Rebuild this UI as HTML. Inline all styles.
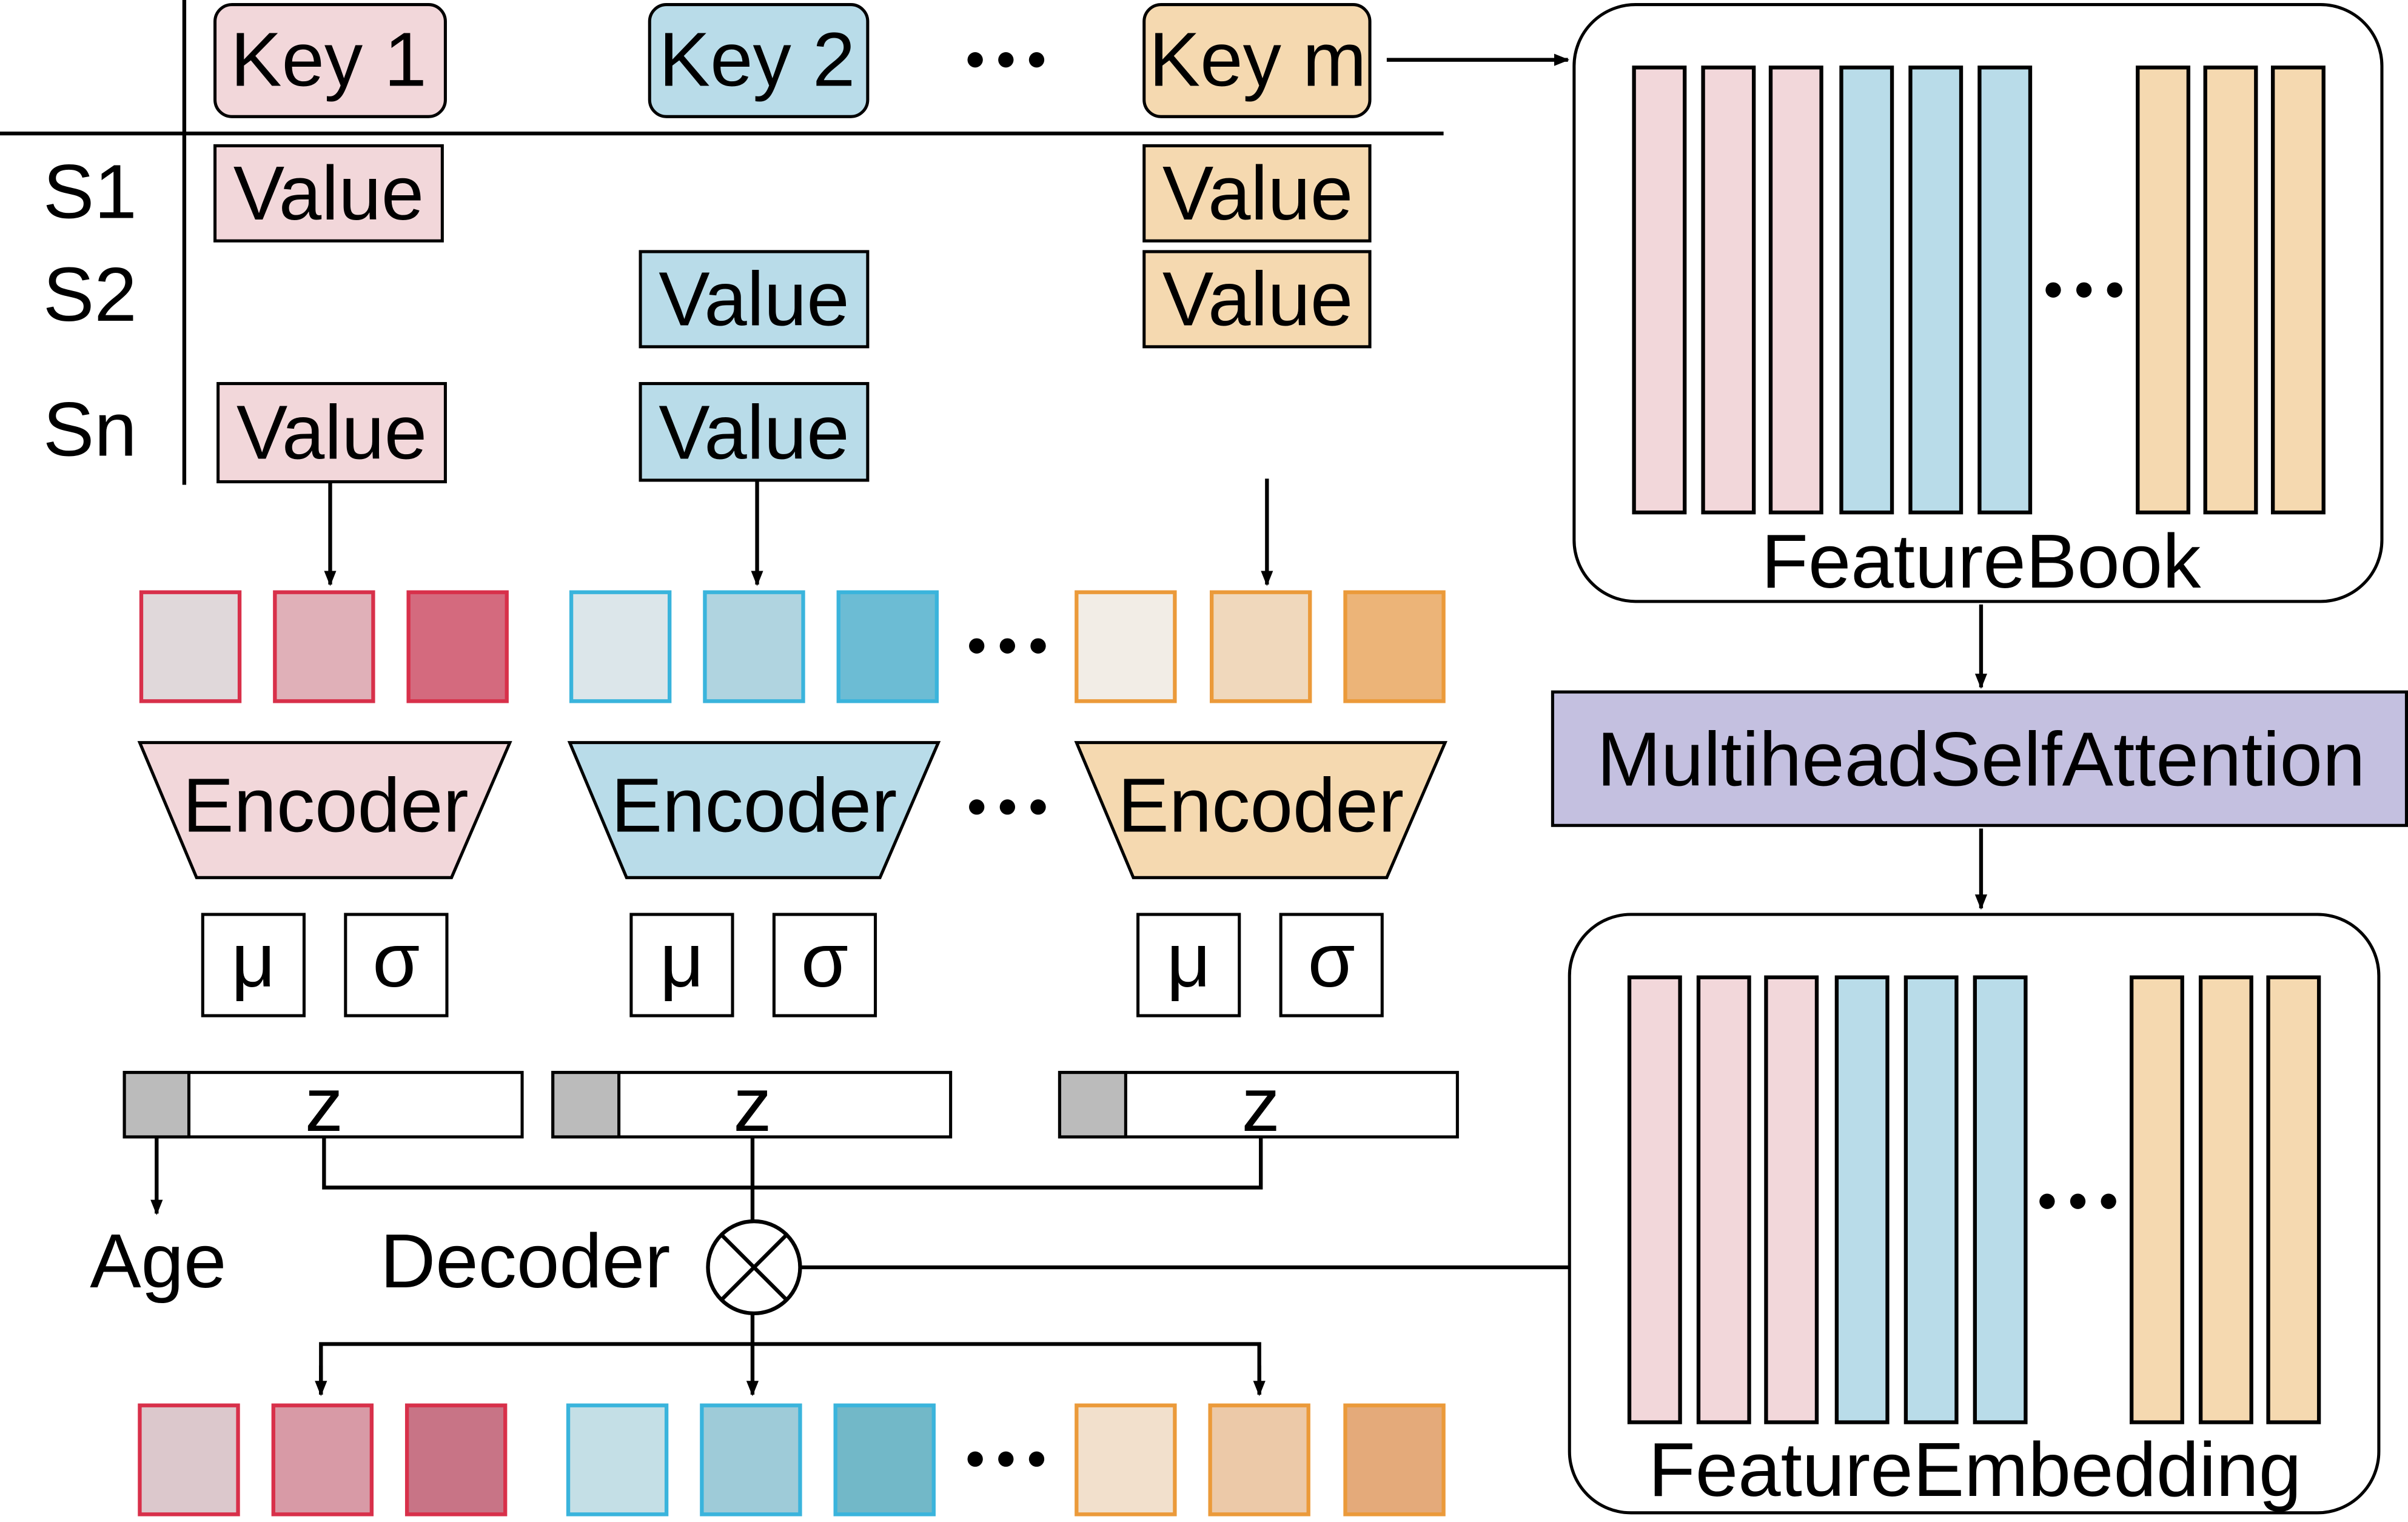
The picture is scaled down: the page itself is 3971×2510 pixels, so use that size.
<!DOCTYPE html>
<html><head><meta charset="utf-8"><style>
html,body{margin:0;padding:0;background:#fff}
svg{display:block}
text{font-family:"Liberation Sans",sans-serif;fill:#000}
</style></head><body>
<svg width="3971" height="2510" viewBox="0 0 1568 992" preserveAspectRatio="none" xmlns="http://www.w3.org/2000/svg">
<defs><marker id="a" markerWidth="10" markerHeight="10" refX="9" refY="5" orient="auto" markerUnits="userSpaceOnUse"><path d="M0,1 L10,5 L0,9 z" fill="#000"/></marker></defs>
<rect width="1568" height="992" fill="#fff"/>
<g stroke="#000" stroke-width="2.5" fill="none">
<line x1="120" y1="0" x2="120" y2="316"/>
<line x1="0" y1="87" x2="940" y2="87"/>
<line x1="903" y1="39" x2="1021" y2="39" marker-end="url(#a)"/>
<line x1="215" y1="314" x2="215" y2="381" marker-end="url(#a)"/>
<line x1="493" y1="313" x2="493" y2="381" marker-end="url(#a)"/>
<line x1="825" y1="312" x2="825" y2="381" marker-end="url(#a)"/>
<line x1="102" y1="741" x2="102" y2="791" marker-end="url(#a)"/>
<polyline points="211,741 211,774 821,774 821,741"/>
<line x1="490" y1="741" x2="490" y2="796"/>
<line x1="521" y1="826" x2="1022" y2="826"/>
<line x1="490" y1="856" x2="490" y2="909" marker-end="url(#a)"/>
<polyline points="209,909 209,876 820,876 820,909"/>
<line x1="209" y1="890" x2="209" y2="909" marker-end="url(#a)"/>
<line x1="820" y1="890" x2="820" y2="909" marker-end="url(#a)"/>
<line x1="1290" y1="394" x2="1290" y2="448" marker-end="url(#a)"/>
<line x1="1290" y1="540" x2="1290" y2="592" marker-end="url(#a)"/>
</g>
<g stroke="#000" stroke-width="2">
<rect x="140" y="3" width="150" height="73" rx="11" fill="#f2d7da"/>
<rect x="423" y="3" width="142" height="73" rx="11" fill="#b9dce9"/>
<rect x="745" y="3" width="147" height="73" rx="11" fill="#f5d9b0"/>
<rect x="140" y="95" width="148" height="62" fill="#f2d7da"/>
<rect x="745" y="95" width="147" height="62" fill="#f5d9b0"/>
<rect x="417" y="164" width="148" height="62" fill="#b9dce9"/>
<rect x="745" y="164" width="147" height="62" fill="#f5d9b0"/>
<rect x="142" y="250" width="148" height="64" fill="#f2d7da"/>
<rect x="417" y="250" width="148" height="63" fill="#b9dce9"/>
<polygon points="91,484 332,484 294,572 128,572" fill="#f2d7da"/>
<polygon points="371,484 611,484 573,572 408,572" fill="#b9dce9"/>
<polygon points="701,484 941,484 903,572 738,572" fill="#f5d9b0"/>
<g fill="#fff">
<rect x="132" y="596" width="66" height="66"/><rect x="225" y="596" width="66" height="66"/>
<rect x="411" y="596" width="66" height="66"/><rect x="504" y="596" width="66" height="66"/>
<rect x="741" y="596" width="66" height="66"/><rect x="834" y="596" width="66" height="66"/>
<rect x="81" y="699" width="259" height="42"/><rect x="360" y="699" width="259" height="42"/><rect x="690" y="699" width="259" height="42"/>
</g>
<rect x="81" y="699" width="42" height="42" fill="#bbb"/>
<rect x="360" y="699" width="43" height="42" fill="#bbb"/>
<rect x="690" y="699" width="43" height="42" fill="#bbb"/>
<circle cx="491" cy="826" r="30" fill="#fff" stroke-width="2.5"/>
<line x1="470" y1="805" x2="512" y2="847" stroke-width="2.5"/><line x1="512" y1="805" x2="470" y2="847" stroke-width="2.5"/>
<rect x="1025" y="3" width="526" height="389" rx="40" fill="#fff"/>
<rect x="1022" y="596" width="527" height="390" rx="40" fill="#fff"/>
<rect x="1011" y="451" width="556" height="87" fill="#c4c0e0"/>
</g>
<g stroke-width="2.5">
<g stroke="#d8304a"><rect x="92" y="386" width="64" height="71" fill="#e0d8da"/><rect x="179" y="386" width="64" height="71" fill="#e0b0b8"/><rect x="266" y="386" width="64" height="71" fill="#d46a7e"/></g>
<g stroke="#3ab4dc"><rect x="372" y="386" width="64" height="71" fill="#dce6ea"/><rect x="459" y="386" width="64" height="71" fill="#b0d4e0"/><rect x="546" y="386" width="64" height="71" fill="#6cbcd4"/></g>
<g stroke="#eb9a3a"><rect x="701" y="386" width="64" height="71" fill="#f2ede6"/><rect x="789" y="386" width="64" height="71" fill="#f0d8bc"/><rect x="876" y="386" width="64" height="71" fill="#ecb478"/></g>
<g stroke="#d8304a"><rect x="91" y="916" width="64" height="71" fill="#dcc8cc"/><rect x="178" y="916" width="64" height="71" fill="#d89aa6"/><rect x="265" y="916" width="64" height="71" fill="#c87486"/></g>
<g stroke="#3ab4dc"><rect x="370" y="916" width="64" height="71" fill="#c4dfe6"/><rect x="457" y="916" width="64" height="71" fill="#9ecbd8"/><rect x="544" y="916" width="64" height="71" fill="#72b8c8"/></g>
<g stroke="#eb9a3a"><rect x="701" y="916" width="64" height="71" fill="#f2e0cc"/><rect x="788" y="916" width="64" height="71" fill="#ecc9a8"/><rect x="876" y="916" width="64" height="71" fill="#e4aa7a"/></g>
</g>
<g stroke="#000" stroke-width="2.5">
<g fill="#f2d7da"><rect x="1064" y="44" width="33" height="290"/><rect x="1109" y="44" width="33" height="290"/><rect x="1153" y="44" width="33" height="290"/></g>
<g fill="#b9dce9"><rect x="1199" y="44" width="33" height="290"/><rect x="1244" y="44" width="33" height="290"/><rect x="1289" y="44" width="33" height="290"/></g>
<g fill="#f5d9b0"><rect x="1392" y="44" width="33" height="290"/><rect x="1436" y="44" width="33" height="290"/><rect x="1480" y="44" width="33" height="290"/></g>
<g fill="#f2d7da"><rect x="1061" y="637" width="33" height="290"/><rect x="1106" y="637" width="33" height="290"/><rect x="1150" y="637" width="33" height="290"/></g>
<g fill="#b9dce9"><rect x="1196" y="637" width="33" height="290"/><rect x="1241" y="637" width="33" height="290"/><rect x="1286" y="637" width="33" height="290"/></g>
<g fill="#f5d9b0"><rect x="1388" y="637" width="33" height="290"/><rect x="1433" y="637" width="33" height="290"/><rect x="1477" y="637" width="33" height="290"/></g>
</g>
<g fill="#000">
<circle cx="635" cy="39" r="5"/><circle cx="655" cy="39" r="5"/><circle cx="675" cy="39" r="5"/>
<circle cx="636" cy="421" r="5"/><circle cx="656" cy="421" r="5"/><circle cx="676" cy="421" r="5"/>
<circle cx="636" cy="526" r="5"/><circle cx="656" cy="526" r="5"/><circle cx="676" cy="526" r="5"/>
<circle cx="635" cy="951" r="5"/><circle cx="655" cy="951" r="5"/><circle cx="675" cy="951" r="5"/>
<circle cx="1337" cy="189" r="5"/><circle cx="1357" cy="189" r="5"/><circle cx="1377" cy="189" r="5"/>
<circle cx="1333" cy="783" r="5"/><circle cx="1353" cy="783" r="5"/><circle cx="1373" cy="783" r="5"/>
</g>
<g font-size="50" text-anchor="middle">
<text x="214" y="56">Key 1</text><text x="493" y="56">Key 2</text><text x="819" y="56">Key m</text>
<text x="214" y="143">Value</text><text x="819" y="143">Value</text>
<text x="491" y="212">Value</text><text x="819" y="212">Value</text>
<text x="216" y="299">Value</text><text x="491" y="299">Value</text>
<text x="212" y="542">Encoder</text><text x="491" y="542">Encoder</text><text x="821" y="542">Encoder</text>
<text x="165" y="643">μ</text><text x="258" y="643">σ</text>
<text x="444" y="643">μ</text><text x="537" y="643">σ</text>
<text x="774" y="643">μ</text><text x="867" y="643">σ</text>
<text x="211" y="737">z</text><text x="490" y="737">z</text><text x="821" y="737">z</text>
<text x="103" y="839">Age</text><text x="342" y="839">Decoder</text>
<text x="1290" y="383">FeatureBook</text>
<text x="1290" y="512">MultiheadSelfAttention</text>
<text x="1286" y="975">FeatureEmbedding</text>
</g>
<g font-size="50"><text x="28" y="142">S1</text><text x="28" y="209">S2</text><text x="28" y="297">Sn</text></g>
</svg>
</body></html>
